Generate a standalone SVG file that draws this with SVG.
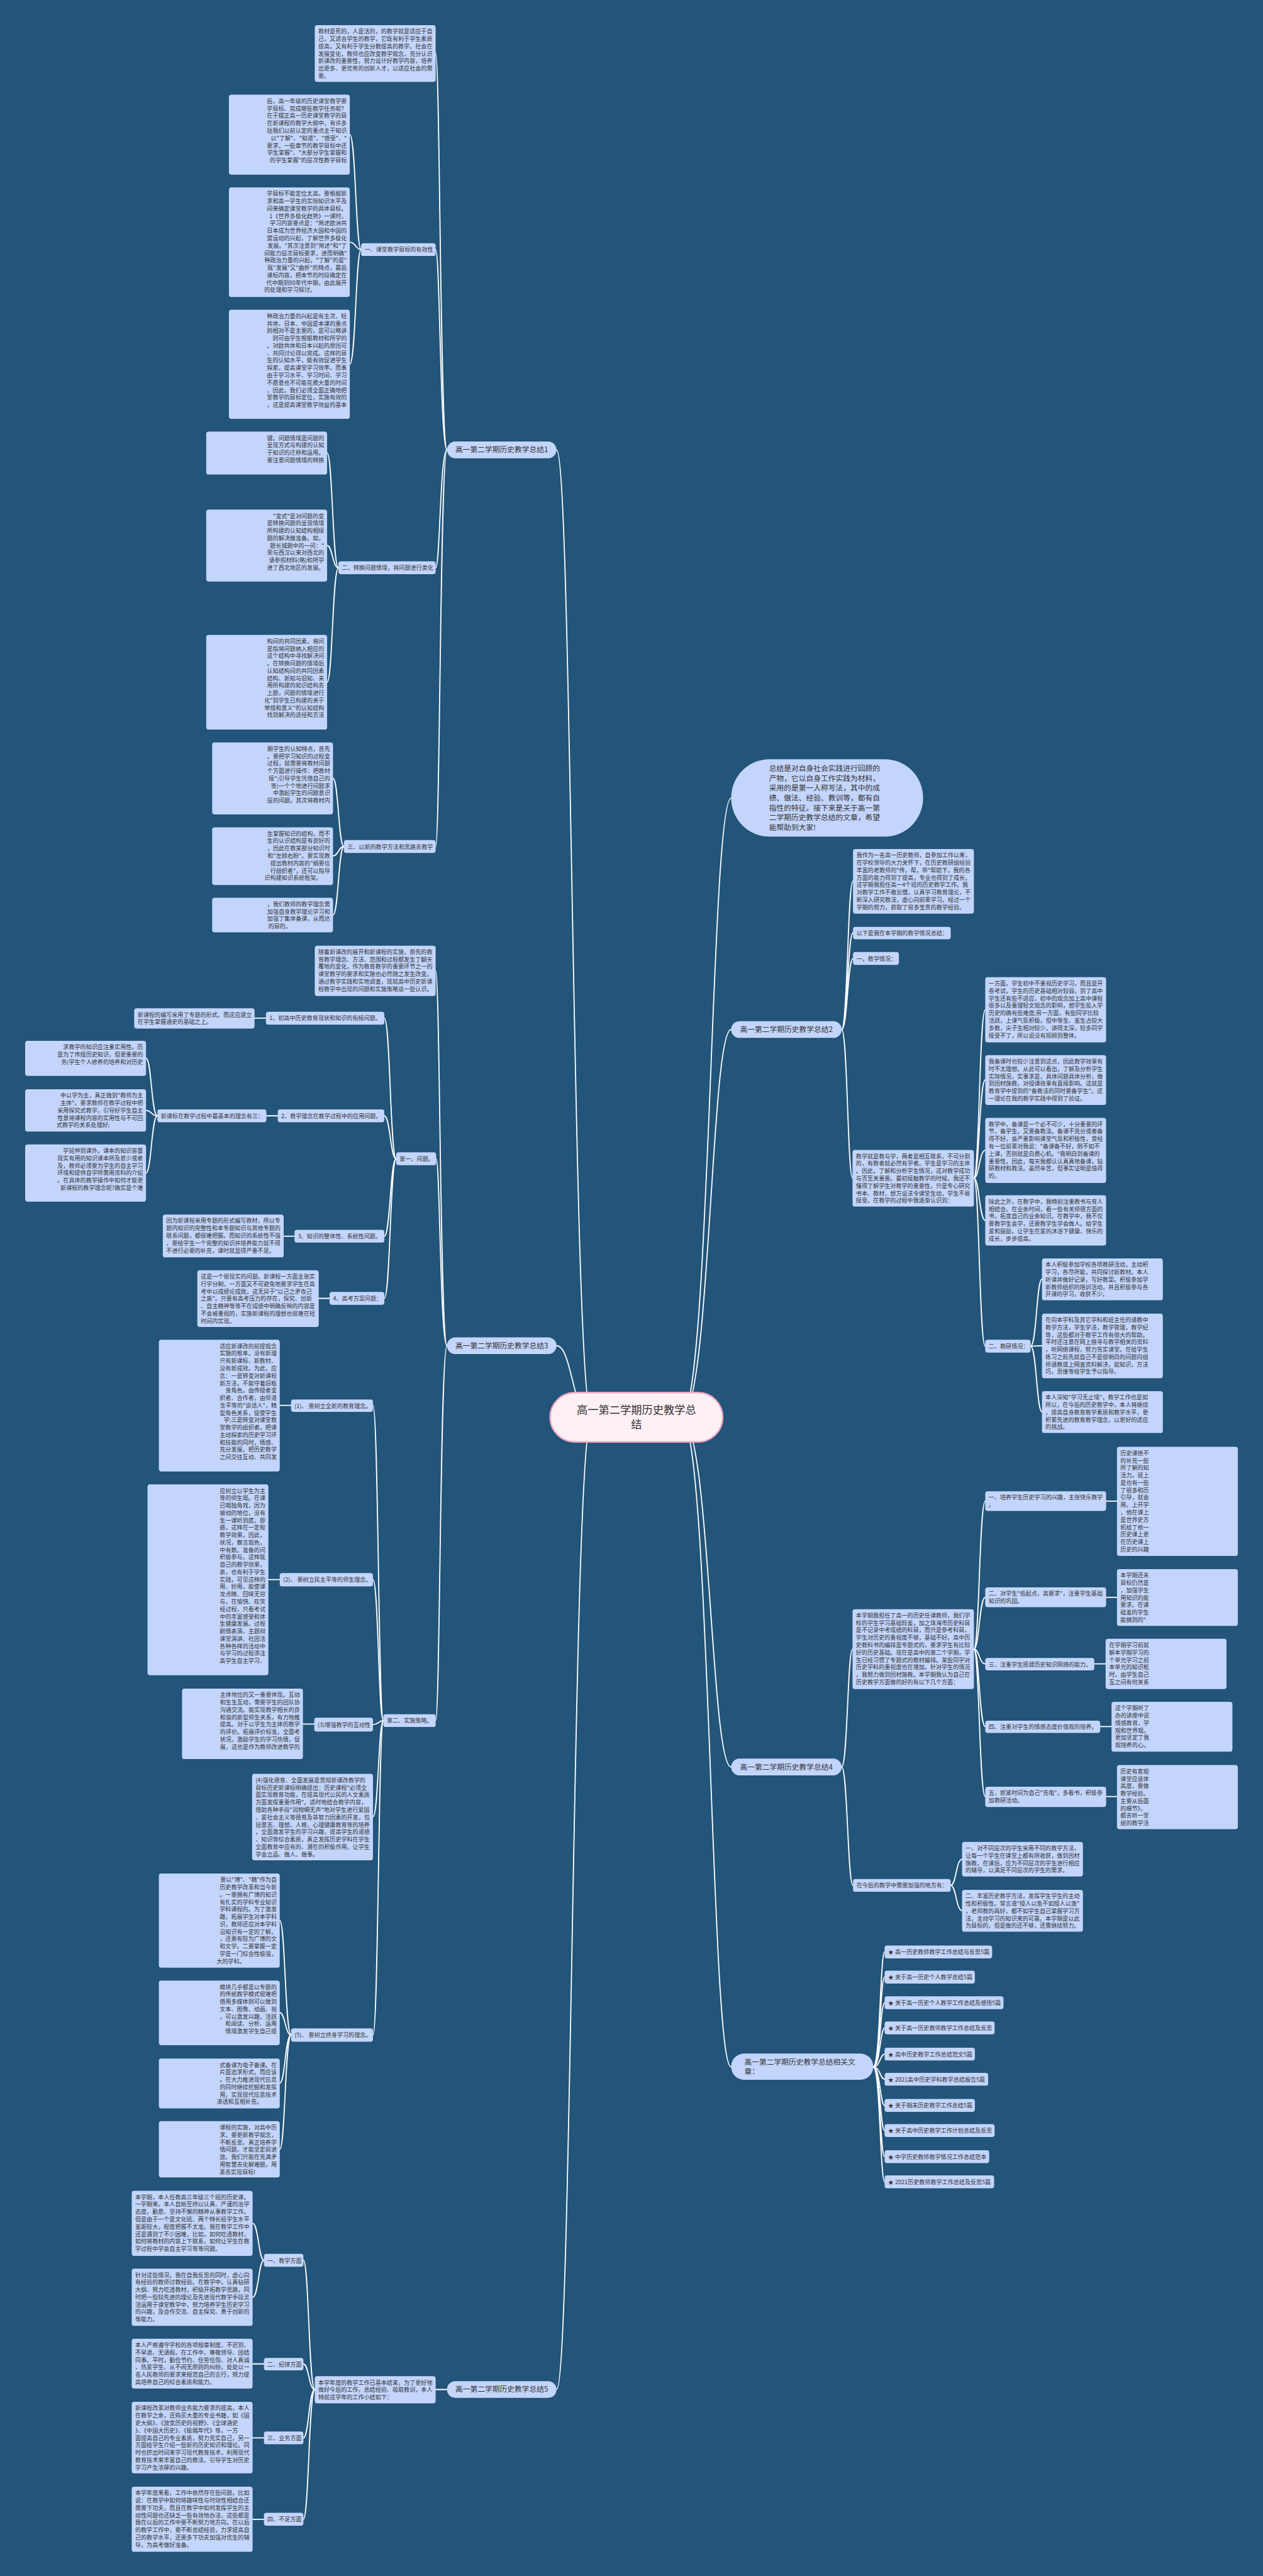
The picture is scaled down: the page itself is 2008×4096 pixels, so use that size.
<svg xmlns="http://www.w3.org/2000/svg" width="2008" height="4096" viewBox="0 0 2008 4096">
<style>
.bg{fill:#235479}
.n{fill:#c3d5fb}
.t{font-family:"Noto Sans CJK SC","Noto Sans CJK JP",sans-serif;font-size:11.6px;fill:#333}
.r{text-anchor:end}
.b{font-size:15px}
.m{text-anchor:middle}
.c{fill:none;stroke:#fff;stroke-width:2.3;stroke-linecap:round}
.ctr{fill:#fdf0f5;stroke:#f2a5c0;stroke-width:3}
</style>
<rect class="bg" x="0" y="0" width="2008" height="4096"/>
<g transform="scale(0.784375)">
<g id="connectors">
<path class="c" d="M1200 2873 C1160 2873 1160 912 1128 912"/>
<path class="c" d="M1200 2873 C1160 2873 1160 2728 1128 2728"/>
<path class="c" d="M1200 2873 C1160 2873 1160 4844 1128 4844"/>
<path class="c" d="M1380 2873 C1440 2873 1440 1618 1482 1618"/>
<path class="c" d="M1380 2873 C1440 2873 1440 2087 1482 2087"/>
<path class="c" d="M1380 2873 C1440 2873 1440 3582 1482 3582"/>
<path class="c" d="M1380 2873 C1440 2873 1440 4190 1482 4190"/>
<path class="c" d="M906 912 C892 912 892 108 883 108"/>
<path class="c" d="M906 912 C892 912 892 506 883 506"/>
<path class="c" d="M906 912 C892 912 892 1151 883 1151"/>
<path class="c" d="M906 912 C892 912 892 1716 883 1716"/>
<path class="c" d="M732 506 C721 506 721 273 709 273"/>
<path class="c" d="M732 506 C721 506 721 491 709 491"/>
<path class="c" d="M732 506 C721 506 721 738 709 738"/>
<path class="c" d="M686 1151 C674 1151 674 918 663 918"/>
<path class="c" d="M686 1151 C674 1151 674 1106 663 1106"/>
<path class="c" d="M686 1151 C674 1151 674 1383 663 1383"/>
<path class="c" d="M697 1716 C686 1716 686 1578 675 1578"/>
<path class="c" d="M697 1716 C686 1716 686 1735 675 1735"/>
<path class="c" d="M697 1716 C686 1716 686 1855 675 1855"/>
<path class="c" d="M906 2728 C892 2728 892 1968 883 1968"/>
<path class="c" d="M906 2728 C892 2728 892 2349 884 2349"/>
<path class="c" d="M906 2728 C892 2728 892 3488 883 3488"/>
<path class="c" d="M803 2349 C791 2349 791 2064 779 2064"/>
<path class="c" d="M803 2349 C791 2349 791 2262 779 2262"/>
<path class="c" d="M803 2349 C791 2349 791 2506 779 2506"/>
<path class="c" d="M803 2349 C791 2349 791 2632 779 2632"/>
<path class="c" d="M539 2064 H516"/>
<path class="c" d="M563 2262 H540"/>
<path class="c" d="M319 2262 C307 2262 307 2145 296 2145"/>
<path class="c" d="M319 2262 C307 2262 307 2251 296 2251"/>
<path class="c" d="M319 2262 C307 2262 307 2378 296 2378"/>
<path class="c" d="M597 2506 H575"/>
<path class="c" d="M668 2632 H646"/>
<path class="c" d="M777 3488 C767 3488 767 2849 756 2849"/>
<path class="c" d="M777 3488 C767 3488 767 3202 756 3202"/>
<path class="c" d="M777 3488 C767 3488 767 3496 756 3496"/>
<path class="c" d="M777 3488 C767 3488 767 3683 756 3683"/>
<path class="c" d="M777 3488 C767 3488 767 4125 756 4125"/>
<path class="c" d="M590 2849 H567"/>
<path class="c" d="M567 3202 H544"/>
<path class="c" d="M637 3495 H614"/>
<path class="c" d="M590 4125 C578 4125 578 3893 567 3893"/>
<path class="c" d="M590 4125 C578 4125 578 4080 567 4080"/>
<path class="c" d="M590 4125 C578 4125 578 4223 567 4223"/>
<path class="c" d="M590 4125 C578 4125 578 4357 567 4357"/>
<path class="c" d="M906 4844 H883"/>
<path class="c" d="M638 4844 C626 4844 626 4582 615 4582"/>
<path class="c" d="M638 4844 C626 4844 626 4792 615 4792"/>
<path class="c" d="M638 4844 C626 4844 626 4942 615 4942"/>
<path class="c" d="M638 4844 C626 4844 626 5107 615 5107"/>
<path class="c" d="M535 4582 C524 4582 524 4507 512 4507"/>
<path class="c" d="M535 4582 C524 4582 524 4657 512 4657"/>
<path class="c" d="M535 4792 H512"/>
<path class="c" d="M535 4942 H512"/>
<path class="c" d="M535 5107 H512"/>
<path class="c" d="M1706 2087 C1718 2087 1718 1786 1729 1786"/>
<path class="c" d="M1706 2087 C1718 2087 1718 1891 1729 1891"/>
<path class="c" d="M1706 2087 C1718 2087 1718 1943 1729 1943"/>
<path class="c" d="M1706 2087 C1718 2087 1718 2388 1728 2388"/>
<path class="c" d="M1974 2388 C1985 2388 1985 2047 1997 2047"/>
<path class="c" d="M1974 2388 C1985 2388 1985 2189 1997 2189"/>
<path class="c" d="M1974 2388 C1985 2388 1985 2332 1997 2332"/>
<path class="c" d="M1974 2388 C1985 2388 1985 2474 1997 2474"/>
<path class="c" d="M1974 2388 C1985 2388 1985 2729 1997 2729"/>
<path class="c" d="M2089 2729 C2101 2729 2101 2593 2112 2593"/>
<path class="c" d="M2089 2729 C2101 2729 2101 2728 2112 2728"/>
<path class="c" d="M2089 2729 C2101 2729 2101 2862 2112 2862"/>
<path class="c" d="M1706 3582 C1718 3582 1718 3343 1728 3343"/>
<path class="c" d="M1706 3582 C1718 3582 1718 3822 1729 3822"/>
<path class="c" d="M1974 3343 C1985 3343 1985 3043 1997 3043"/>
<path class="c" d="M1974 3343 C1985 3343 1985 3238 1997 3238"/>
<path class="c" d="M1974 3343 C1985 3343 1985 3373 1997 3373"/>
<path class="c" d="M1974 3343 C1985 3343 1985 3500 1997 3500"/>
<path class="c" d="M1974 3343 C1985 3343 1985 3642 1997 3642"/>
<path class="c" d="M2242 3043 H2264"/>
<path class="c" d="M2242 3238 H2264"/>
<path class="c" d="M2218 3373 H2241"/>
<path class="c" d="M2230 3500 H2253"/>
<path class="c" d="M2242 3642 H2264"/>
<path class="c" d="M1927 3822 C1938 3822 1938 3769 1950 3769"/>
<path class="c" d="M1927 3822 C1938 3822 1938 3873 1950 3873"/>
<path class="c" d="M1770 4190 C1784 4190 1784 3957 1793 3957"/>
<path class="c" d="M1770 4190 C1784 4190 1784 4008 1793 4008"/>
<path class="c" d="M1770 4190 C1784 4190 1784 4060 1793 4060"/>
<path class="c" d="M1770 4190 C1784 4190 1784 4111 1793 4111"/>
<path class="c" d="M1770 4190 C1784 4190 1784 4164 1793 4164"/>
<path class="c" d="M1770 4190 C1784 4190 1784 4215 1793 4215"/>
<path class="c" d="M1770 4190 C1784 4190 1784 4268 1793 4268"/>
<path class="c" d="M1770 4190 C1784 4190 1784 4319 1793 4319"/>
<path class="c" d="M1770 4190 C1784 4190 1784 4372 1793 4372"/>
<path class="c" d="M1770 4190 C1784 4190 1784 4423 1793 4423"/>
</g>

<g id="center"><rect class="ctr" x="1115" y="2823" width="350" height="100" rx="50"/><text class="t m" style="font-size:22px" x="1290"><tspan x="1290" y="2866">高一第二学期历史教学总</tspan><tspan x="1290" y="2895">结</tspan></text></g>

<g id="intro"><rect class="n" x="1482" y="1539" width="389" height="157" rx="78"/><text class="t b" x="1559" y="1563"><tspan x="1559" dy="0">总结是对自身社会实践进行回顾的</tspan><tspan x="1559" dy="20">产物，它以自身工作实践为材料，</tspan><tspan x="1559" dy="20">采用的是第一人称写法，其中的成</tspan><tspan x="1559" dy="20">绩、做法、经验、教训等，都有自</tspan><tspan x="1559" dy="20">指性的特征。接下来是关于高一第</tspan><tspan x="1559" dy="20">二学期历史教学总结的文章，希望</tspan><tspan x="1559" dy="20">能帮助到大家!</tspan></text></g>

<!-- Branch 1 -->
<g id="b1"><rect class="n" x="906" y="895" width="222" height="34" rx="17"/><text class="t b m" x="1017" y="917">高一第二学期历史教学总结1</text></g>
<g id="b1a"><rect class="n" x="638" y="51" width="245" height="115" rx="5"/><text class="t" x="645" y="68"><tspan x="645" dy="0">教材是死的，人是活的，的教学就是适应于自</tspan><tspan x="645" dy="15">己，又适合学生的教学，它既有利于学生素质</tspan><tspan x="645" dy="15">提高，又有利于学生分数提高的教学。社会在</tspan><tspan x="645" dy="15">发展变化，教师也应改变教学观念，充分认识</tspan><tspan x="645" dy="15">新课改的重要性，努力设计好教学内容，培养</tspan><tspan x="645" dy="15">出更多、更优秀的创新人才，以适应社会的需</tspan><tspan x="645" dy="15">要。</tspan></text></g>
<g id="b1n1"><rect class="n" x="732" y="493" width="151" height="26" rx="5"/><text class="t" x="739" y="510.5">一、课堂教学目标的有效性</text></g>
<g id="b1b"><rect class="n" x="464" y="192" width="245" height="162" rx="5"/><text class="t r" x="703" y="209"><tspan x="703" dy="0">后，高一年级的历史课堂教学要</tspan><tspan x="703" dy="15">学目标、完成哪些教学任务呢？</tspan><tspan x="703" dy="15">在于摆正高一历史课堂教学的目</tspan><tspan x="703" dy="15">在新课程的教学大纲中，有许多</tspan><tspan x="703" dy="15">括我们以前认定的重点主干知识</tspan><tspan x="703" dy="15">以"了解"、"知道"、"感受"、"</tspan><tspan x="703" dy="15">要求，一些章节的教学目标中还</tspan><tspan x="703" dy="15">学生掌握"、"大部分学生掌握和</tspan><tspan x="703" dy="15">的学生掌握"的层次性教学目标</tspan></text></g>
<g id="b1c"><rect class="n" x="464" y="380" width="245" height="222" rx="5"/><text class="t r" x="703" y="397"><tspan x="703" dy="0">学目标不能定位太高，要根据新</tspan><tspan x="703" dy="15">求和高一学生的实际知识水平及</tspan><tspan x="703" dy="15">间来确定课堂教学的具体目标。</tspan><tspan x="703" dy="15">1《世界多极化趋势》一课时，</tspan><tspan x="703" dy="15">学习内容要点是："简述欧洲共</tspan><tspan x="703" dy="15">日本成为世界经济大国和中国的</tspan><tspan x="703" dy="15">盟运动的兴起，了解世界多极化</tspan><tspan x="703" dy="15">发展。"其次注意到"简述"和"了</tspan><tspan x="703" dy="15">间能力层次目标要求，进而明确"</tspan><tspan x="703" dy="15">种政治力量的兴起，"了解"的是"</tspan><tspan x="703" dy="15">既"发展"又"曲折"的特点，最后</tspan><tspan x="703" dy="15">课标内容，把本节的时段确定在</tspan><tspan x="703" dy="15">代中期到80年代中期，由此展开</tspan><tspan x="640" dy="15">的处理和学习探讨。</tspan></text></g>
<g id="b1d"><rect class="n" x="464" y="628" width="245" height="221" rx="5"/><text class="t r" x="703" y="645"><tspan x="703" dy="0">种政治力量的兴起是有主次、轻</tspan><tspan x="703" dy="15">共体、日本、中国是本课的重点</tspan><tspan x="703" dy="15">则相对不是主要的，是可以略讲</tspan><tspan x="703" dy="15">则可由学生根据教材和所学的</tspan><tspan x="703" dy="15">。对欧共体和日本兴起的原因可</tspan><tspan x="703" dy="15">、共同讨论得以完成。这样的目</tspan><tspan x="703" dy="15">生的认知水平，能有效促进学生</tspan><tspan x="703" dy="15">探索，提高课堂学习效率。而事</tspan><tspan x="703" dy="15">由于学习水平、学习时间、学习</tspan><tspan x="703" dy="15">不愿意也不可能花费大量的时间</tspan><tspan x="703" dy="15">，因此，我们必须全面正确地把</tspan><tspan x="703" dy="15">堂教学的目标定位，实施有效的</tspan><tspan x="703" dy="15">，这是提高课堂教学效益的基本</tspan></text></g>
<g id="b1n2"><rect class="n" x="686" y="1138" width="197" height="26" rx="5"/><text class="t" x="693" y="1155.5">二、转换问题情境，将问题进行类化</text></g>
<g id="b1e"><rect class="n" x="418" y="875" width="245" height="87" rx="5"/><text class="t r" x="657" y="892"><tspan x="657" dy="0">键。问题情境是问题的</tspan><tspan x="657" dy="15">呈现方式与构建的认知</tspan><tspan x="657" dy="15">于知识的迁移和运用。</tspan><tspan x="657" dy="15">要注意问题情境的转换</tspan></text></g>
<g id="b1f"><rect class="n" x="418" y="1033" width="245" height="146" rx="5"/><text class="t r" x="657" y="1050"><tspan x="657" dy="0">"变式"是对问题的变</tspan><tspan x="657" dy="15">是转换问题的呈现情境</tspan><tspan x="657" dy="15">所构建的认知结构相接</tspan><tspan x="657" dy="15">题的解决做准备。如，</tspan><tspan x="657" dy="15">题长城题中的一问："</tspan><tspan x="657" dy="15">荣与西汉以来对西北的</tspan><tspan x="657" dy="15">请参照材料(略)和所学</tspan><tspan x="657" dy="15">进了西北地区的发展。</tspan></text></g>
<g id="b1g"><rect class="n" x="418" y="1287" width="245" height="192" rx="5"/><text class="t r" x="657" y="1304"><tspan x="657" dy="0">构间的共同因素，将问</tspan><tspan x="657" dy="15">是指将问题纳入相应的</tspan><tspan x="657" dy="15">这个结构中寻找解决问</tspan><tspan x="657" dy="15">。在转换问题的情境后</tspan><tspan x="657" dy="15">认知结构间的共同因素</tspan><tspan x="657" dy="15">结构、新知与旧知、未</tspan><tspan x="657" dy="15">用所构建的知识结构去</tspan><tspan x="657" dy="15">上题，问题的情境进行</tspan><tspan x="657" dy="15">化"到学生已构建的关于</tspan><tspan x="657" dy="15">举措和意义"的认知结构</tspan><tspan x="657" dy="15">找到解决的途径和方法</tspan></text></g>
<g id="b1n3"><rect class="n" x="697" y="1703" width="186" height="26" rx="5"/><text class="t" x="704" y="1720.5">三、以新的教学方法和思路去教学</text></g>
<g id="b1h"><rect class="n" x="430" y="1505" width="245" height="146" rx="5"/><text class="t r" x="669" y="1522"><tspan x="669" dy="0">期学生的认知特点，首先</tspan><tspan x="669" dy="15">。要把学习知识的过程变</tspan><tspan x="669" dy="15">过程，就需要将教材问题</tspan><tspan x="669" dy="15">个方面进行操作：把教材</tspan><tspan x="669" dy="15">接";引导学生凭借自己的</tspan><tspan x="669" dy="15">等)一个个地进行问题求</tspan><tspan x="669" dy="15">中激起学生的问题意识</tspan><tspan x="669" dy="15">层的问题。其次将教材内</tspan></text></g>
<g id="b1i"><rect class="n" x="430" y="1677" width="245" height="117" rx="5"/><text class="t r" x="669" y="1694"><tspan x="669" dy="0">生掌握知识的结构，而不</tspan><tspan x="669" dy="15">生的认识结构是有良好的</tspan><tspan x="669" dy="15">，因此在教某部分知识时</tspan><tspan x="669" dy="15">和"左顾右盼"。要实现教</tspan><tspan x="669" dy="15">提出教材内容的"纲要信</tspan><tspan x="669" dy="15">行组织者"，还可以指导</tspan><tspan x="652" dy="15">识构建知识系统框架。</tspan></text></g>
<g id="b1j"><rect class="n" x="430" y="1820" width="245" height="70" rx="5"/><text class="t r" x="669" y="1837"><tspan x="669" dy="0">，我们教师的教学理念需</tspan><tspan x="669" dy="15">加强自身教学理论学习和</tspan><tspan x="669" dy="15">加强了集体备课，从而达</tspan><tspan x="590" dy="15">的目的。</tspan></text></g>

<!-- Branch 3 -->
<g id="b3"><rect class="n" x="906" y="2711" width="222" height="34" rx="17"/><text class="t b m" x="1017" y="2733">高一第二学期历史教学总结3</text></g>
<g id="b3i"><rect class="n" x="638" y="1917" width="245" height="102" rx="5"/><text class="t" x="645" y="1934"><tspan x="645" dy="0">随着新课改的展开和新课程的实施，原先的教</tspan><tspan x="645" dy="15">育教学理念、方法、范围和过程都发生了翻天</tspan><tspan x="645" dy="15">覆地的变化，作为教育教学的重要环节之一的</tspan><tspan x="645" dy="15">课堂教学的要求和实施也必然随之发生改变。</tspan><tspan x="645" dy="15">通过教学实践和实地调查，现就高中历史新课</tspan><tspan x="645" dy="15">程教学中出现的问题和实施策略谈一些认识。</tspan></text></g>
<g id="b3p1"><rect class="n" x="803" y="2336" width="81" height="26" rx="5"/><text class="t" x="810" y="2353.5">第一、问题。</text></g>
<g id="b3q1"><rect class="n" x="539" y="2051" width="240" height="26" rx="5"/><text class="t" x="546" y="2068.5">1、初高中历史教育现状和知识的衔接问题。</text></g>
<g id="b3q1a"><rect class="n" x="272" y="2044" width="244" height="41" rx="5"/><text class="t" x="279" y="2061"><tspan x="279" dy="0">新课程的编写采用了专题的形式。而这应建立</tspan><tspan x="279" dy="15">在学生掌握通史的基础之上。</tspan></text></g>
<g id="b3q2"><rect class="n" x="563" y="2249" width="216" height="26" rx="5"/><text class="t" x="570" y="2266.5">2、教学理念在教学过程中的应用问题。</text></g>
<g id="b3q2a"><rect class="n" x="319" y="2249" width="221" height="26" rx="5"/><text class="t" x="326" y="2266.5">新课标在教学过程中最基本的理念有三：</text></g>
<g id="b3k"><rect class="n" x="51" y="2110" width="245" height="71" rx="5"/><text class="t r" x="290" y="2127"><tspan x="290" dy="0">求教学的知识应注重实用性。历</tspan><tspan x="290" dy="15">是为了传授历史知识，但更重要的</tspan><tspan x="290" dy="15">务(学生个人修养的培养和对历史</tspan></text></g>
<g id="b3l"><rect class="n" x="51" y="2208" width="245" height="86" rx="5"/><text class="t r" x="290" y="2225"><tspan x="290" dy="0">中以学为主，真正做到"教师为主</tspan><tspan x="290" dy="15">主体"。要求教师在教学过程中把</tspan><tspan x="290" dy="15">采用探究式教学，引导好学生自主</tspan><tspan x="290" dy="15">性意将课程内容的实用性与不可回</tspan><tspan x="222" dy="15">式教学的关系处理好;</tspan></text></g>
<g id="b3m"><rect class="n" x="51" y="2320" width="245" height="116" rx="5"/><text class="t r" x="290" y="2337"><tspan x="290" dy="0">学延伸到课外。课本的知识容量</tspan><tspan x="290" dy="15">现实有用的知识课本所及甚少或者</tspan><tspan x="290" dy="15">及，教师必须要为学生的自主学习</tspan><tspan x="290" dy="15">环境和提供自学所需用资料的介绍</tspan><tspan x="290" dy="15">。在具体的教学操作中如何才能更</tspan><tspan x="290" dy="15">新课程的教学理念呢?确实是个难</tspan></text></g>
<g id="b3q3"><rect class="n" x="597" y="2493" width="182" height="26" rx="5"/><text class="t" x="604" y="2510.5">3、知识的整体性、系统性问题。</text></g>
<g id="b3q3a"><rect class="n" x="330" y="2462" width="245" height="87" rx="5"/><text class="t" x="337" y="2479"><tspan x="337" dy="0">因为新课程采用专题的形式编写教材，所以专</tspan><tspan x="337" dy="15">题内知识的完整性和本专题知识与其他专题的</tspan><tspan x="337" dy="15">联系问题，都很难把握。而知识的系统性不强</tspan><tspan x="337" dy="15">，要给学生一个完整的知识并培养能力就不得</tspan><tspan x="337" dy="15">不进行必要的补充，课时就显得严重不足。</tspan></text></g>
<g id="b3q4"><rect class="n" x="668" y="2619" width="111" height="26" rx="5"/><text class="t" x="675" y="2636.5">4、高考方案问题：</text></g>
<g id="b3q4a"><rect class="n" x="400" y="2575" width="246" height="115" rx="5"/><text class="t" x="407" y="2592"><tspan x="407" dy="0">这是一个很现实的问题。新课程一方面主张实</tspan><tspan x="407" dy="15">行学分制，一方面又不可避免地要求学生在高</tspan><tspan x="407" dy="15">考中以成绩论成败，这无异于"以己之矛攻己</tspan><tspan x="407" dy="15">之盾"。只要有高考压力的存在，探究、创新</tspan><tspan x="407" dy="15">、自主精神等等不在成绩中明确反映的内容是</tspan><tspan x="407" dy="15">不会被重视的，实施新课程的理想也很难在短</tspan><tspan x="407" dy="15">时间内实现。</tspan></text></g>
<g id="b3p2"><rect class="n" x="777" y="3475" width="106" height="26" rx="5"/><text class="t" x="784" y="3492.5">第二、实施策略。</text></g>
<g id="b3s1"><rect class="n" x="590" y="2837" width="166" height="25" rx="5"/><text class="t" x="597" y="2854">(1)、 要树立全新的教育理念。</text></g>
<g id="b3s1a"><rect class="n" x="322" y="2716" width="245" height="267" rx="5"/><text class="t r" x="561" y="2733"><tspan x="561" dy="0">适应新课改的前提观念</tspan><tspan x="561" dy="15">实施的根本。没有新理</tspan><tspan x="561" dy="15">只有新课标、新教材、</tspan><tspan x="561" dy="15">没有新成效。为此，应</tspan><tspan x="561" dy="15">念：一是转变对新课程</tspan><tspan x="561" dy="15">新方法，不能守着旧框</tspan><tspan x="561" dy="15">身角色，由传授者变</tspan><tspan x="561" dy="15">织者、合作者，由师道</tspan><tspan x="561" dy="15">生平等的"谈话人"，精</tspan><tspan x="561" dy="15">型角色关系，促使学生</tspan><tspan x="561" dy="15">学;三是转变对课堂教</tspan><tspan x="561" dy="15">堂教学的组织者，把课</tspan><tspan x="561" dy="15">主动探索的历史学习环</tspan><tspan x="561" dy="15">和技能的同时，情感、</tspan><tspan x="561" dy="15">充分发展，把历史教学</tspan><tspan x="561" dy="15">之间交往互动、共同发</tspan></text></g>
<g id="b3s2"><rect class="n" x="567" y="3189" width="189" height="27" rx="5"/><text class="t" x="574" y="3207">(2)、 要树立民主平等的师生理念。</text></g>
<g id="b3s2a"><rect class="n" x="299" y="3009" width="245" height="387" rx="5"/><text class="t r" x="538" y="3026"><tspan x="538" dy="0">应树立以学生为主</tspan><tspan x="538" dy="15">等的师生观。在课</tspan><tspan x="538" dy="15">已唱独角戏，因为</tspan><tspan x="538" dy="15">被动的地位，没有</tspan><tspan x="538" dy="15">生一课听到底，即</tspan><tspan x="538" dy="15">惑，这样在一定程</tspan><tspan x="538" dy="15">教学效果。因此，</tspan><tspan x="538" dy="15">状况，察言观色，</tspan><tspan x="538" dy="15">中有数。准备的问</tspan><tspan x="538" dy="15">积极参与。这样既</tspan><tspan x="538" dy="15">自己的教学效果，</tspan><tspan x="538" dy="15">表，也有利于学生</tspan><tspan x="538" dy="15">实践，可见这样的</tspan><tspan x="538" dy="15">用、妙用，能使课</tspan><tspan x="538" dy="15">龙点睛、回味无穷</tspan><tspan x="538" dy="15">与，在愉快、欢笑</tspan><tspan x="538" dy="15">经过程，只看考试</tspan><tspan x="538" dy="15">中的丰富感受和体</tspan><tspan x="538" dy="15">生健康发展。过程</tspan><tspan x="538" dy="15">剧情表演、主题辩</tspan><tspan x="538" dy="15">课堂演讲、社团活</tspan><tspan x="538" dy="15">各种各样的活动中</tspan><tspan x="538" dy="15">与学习的过程添注</tspan><tspan x="538" dy="15">高学生自主学习、</tspan></text></g>
<g id="b3s3"><rect class="n" x="637" y="3482" width="119" height="28" rx="5"/><text class="t" x="644" y="3501">(3)增强教学的互动性</text></g>
<g id="b3s3a"><rect class="n" x="369" y="3423" width="245" height="143" rx="5"/><text class="t r" x="608" y="3440"><tspan x="608" dy="0">主体地位的又一重要体现。互动</tspan><tspan x="608" dy="15">和生生互动，需要学生的团队协</tspan><tspan x="608" dy="15">沟通交流。能实现教学相长的良</tspan><tspan x="608" dy="15">和谐的新型师生关系，有力地推</tspan><tspan x="608" dy="15">提高。对于以学生为主体的教学</tspan><tspan x="608" dy="15">的评价。拓展评价标准，全面考</tspan><tspan x="608" dy="15">状况，激励学生的学习热情，促</tspan><tspan x="608" dy="15">展，这也是作为教师改进教学的</tspan></text></g>
<g id="b3s4"><rect class="n" x="511" y="3596" width="245" height="175" rx="5"/><text class="t" x="518" y="3613"><tspan x="518" dy="0">(4)强化德育、全面发展是贯彻新课改教学的</tspan><tspan x="518" dy="15">目标历史新课标明确提出：历史课程"必须全</tspan><tspan x="518" dy="15">面实现教育功能，在提高现代公民的人文素质</tspan><tspan x="518" dy="15">方面发挥重要作用"。适时地结合教学内容，</tspan><tspan x="518" dy="15">借助各种手段"润物细无声"地对学生进行爱国</tspan><tspan x="518" dy="15">、爱社会主义等德育及非智力因素的开发，包</tspan><tspan x="518" dy="15">括意志、理想、人格，心理健康教育等的培养</tspan><tspan x="518" dy="15">，全面激发学生的学习兴趣，提高学生的道德</tspan><tspan x="518" dy="15">、知识等综合素质，真正发挥历史学科在学生</tspan><tspan x="518" dy="15">全面教育中应有的、潜在的积极作用，让学生</tspan><tspan x="518" dy="15">学会立品、做人、做事。</tspan></text></g>
<g id="b3s5"><rect class="n" x="590" y="4112" width="166" height="27" rx="5"/><text class="t" x="597" y="4130">(5)、 要树立终身学习的理念。</text></g>
<g id="b3s5a"><rect class="n" x="322" y="3798" width="245" height="191" rx="5"/><text class="t r" x="561" y="3815"><tspan x="561" dy="0">要以"博"、"精"作为自</tspan><tspan x="561" dy="15">历史教学改革和当今新</tspan><tspan x="561" dy="15">。一要拥有广博的知识</tspan><tspan x="561" dy="15">有扎实的学科专业知识</tspan><tspan x="561" dy="15">学科课程的。为了激发</tspan><tspan x="561" dy="15">趣，拓展学生对本学科</tspan><tspan x="561" dy="15">识，教师还应对本学科</tspan><tspan x="561" dy="15">沿知识有一定的了解。</tspan><tspan x="561" dy="15">，还要有较为广博的文</tspan><tspan x="561" dy="15">和文学。二要掌握一定</tspan><tspan x="561" dy="15">学是一门综合性极强，</tspan><tspan x="497" dy="15">大的学科。</tspan></text></g>
<g id="b3s5b"><rect class="n" x="322" y="4015" width="245" height="131" rx="5"/><text class="t r" x="561" y="4032"><tspan x="561" dy="0">模块几乎都是以专题的</tspan><tspan x="561" dy="15">的传统教学模式很难把</tspan><tspan x="561" dy="15">借用多媒体则可以做到</tspan><tspan x="561" dy="15">文本、图像、动画、视</tspan><tspan x="561" dy="15">，可以激发兴趣，活跃</tspan><tspan x="561" dy="15">和阅读、分析、运用</tspan><tspan x="561" dy="15">情境激发学生自己提</tspan></text></g>
<g id="b3s5c"><rect class="n" x="322" y="4173" width="245" height="101" rx="5"/><text class="t r" x="561" y="4190"><tspan x="561" dy="0">式备课为电子备课。在</tspan><tspan x="561" dy="15">片面追求形式，而应该</tspan><tspan x="561" dy="15">。在大力推进现代信息</tspan><tspan x="561" dy="15">的同时继续挖掘和发挥</tspan><tspan x="561" dy="15">用，实现现代信息技术</tspan><tspan x="532" dy="15">渗透和互相补充。</tspan></text></g>
<g id="b3s5d"><rect class="n" x="322" y="4300" width="245" height="114" rx="5"/><text class="t r" x="561" y="4317"><tspan x="561" dy="0">课程的实施，对高中历</tspan><tspan x="561" dy="15">求。要更新教学观念，</tspan><tspan x="561" dy="15">不断反思，真正培养学</tspan><tspan x="561" dy="15">情问题，才能坚定前进</tspan><tspan x="561" dy="15">放。我们只能在充满矛</tspan><tspan x="561" dy="15">用智慧去化解难题，用</tspan><tspan x="518" dy="15">革去实现目标!</tspan></text></g>

<!-- Branch 6 -->
<g id="b6"><rect class="n" x="906" y="4827" width="222" height="34" rx="17"/><text class="t b m" x="1017" y="4849">高一第二学期历史教学总结5</text></g>
<g id="b6a"><rect class="n" x="638" y="4817" width="245" height="55" rx="5"/><text class="t" x="645" y="4834"><tspan x="645" dy="0">本学年度的教学工作已基本结束，为了更好地</tspan><tspan x="645" dy="15">做好今后的工作，总结经验、吸取教训，本人</tspan><tspan x="645" dy="15">特就这学年的工作小结如下：</tspan></text></g>
<g id="b6n1"><rect class="n" x="535" y="4569" width="80" height="26" rx="5"/><text class="t" x="542" y="4586.5">一、教学方面</text></g>
<g id="b6n2"><rect class="n" x="535" y="4780" width="80" height="25" rx="5"/><text class="t" x="542" y="4797">二、纪律方面</text></g>
<g id="b6n3"><rect class="n" x="535" y="4929" width="80" height="26" rx="5"/><text class="t" x="542" y="4946.5">三、业务方面</text></g>
<g id="b6n4"><rect class="n" x="535" y="5094" width="80" height="26" rx="5"/><text class="t" x="542" y="5111.5">四、不足方面</text></g>
<g id="b6u1"><rect class="n" x="267" y="4441" width="245" height="132" rx="5"/><text class="t" x="274" y="4458"><tspan x="274" dy="0">本学期，本人任教高三年级三个班的历史课。</tspan><tspan x="274" dy="15">一学期来，本人自始至终以认真、严谨的治学</tspan><tspan x="274" dy="15">态度，勤恳、坚持不懈的精神从事教学工作。</tspan><tspan x="274" dy="15">但是由于一个是文化班、两个特长班学生水平</tspan><tspan x="274" dy="15">差距较大，程度把握不太准。我在教学工作中</tspan><tspan x="274" dy="15">还是遇到了不少困难，比如，如何吃透教材，</tspan><tspan x="274" dy="15">如何将教材的内容上下联系，如何让学生在教</tspan><tspan x="274" dy="15">学过程中学会自主学习等等问题。</tspan></text></g>
<g id="b6u2"><rect class="n" x="267" y="4599" width="245" height="116" rx="5"/><text class="t" x="274" y="4616"><tspan x="274" dy="0">针对这些情况，我在自我反思的同时，虚心向</tspan><tspan x="274" dy="15">有经验的教师讨教经验。在教学中，认真钻研</tspan><tspan x="274" dy="15">大纲、努力吃透教材，积极开拓教学思路，同</tspan><tspan x="274" dy="15">时把一些较先进的理论及先进现代教学手段灵</tspan><tspan x="274" dy="15">活运用于课堂教学中，努力培养学生历史学习</tspan><tspan x="274" dy="15">的兴趣，及合作交流、自主探究、勇于创新的</tspan><tspan x="274" dy="15">等能力。</tspan></text></g>
<g id="b6v"><rect class="n" x="267" y="4741" width="245" height="101" rx="5"/><text class="t" x="274" y="4758"><tspan x="274" dy="0">本人严格遵守学校的各项规章制度，不迟到、</tspan><tspan x="274" dy="15">不早退、无请假。在工作中，尊敬领导、团结</tspan><tspan x="274" dy="15">同事。平时，勤俭节约、任劳任怨、对人真诚</tspan><tspan x="274" dy="15">、热爱学生、从不闹无原则的纠纷，处处以一</tspan><tspan x="274" dy="15">名人民教师的要求来规范自己的言行，努力提</tspan><tspan x="274" dy="15">高培养自己的综合素质和能力。</tspan></text></g>
<g id="b6w"><rect class="n" x="267" y="4869" width="245" height="145" rx="5"/><text class="t" x="274" y="4886"><tspan x="274" dy="0">新课程改革对教师业务能力要求的提高，本人</tspan><tspan x="274" dy="15">在教学之余，还购买大量的专业书籍，如《国</tspan><tspan x="274" dy="15">史大纲》、《放宽历史的视野》、《全球通史</tspan><tspan x="274" dy="15">》、《中国大历史》、《极端年代》等，一方</tspan><tspan x="274" dy="15">面提高自己的专业素质，努力充实自己，另一</tspan><tspan x="274" dy="15">方面给学生介绍一些新的历史知识和理论。同</tspan><tspan x="274" dy="15">时也挤出时间来学习现代教育技术，利用现代</tspan><tspan x="274" dy="15">教育技术来丰富自己的教法，引导学生对历史</tspan><tspan x="274" dy="15">学习产生浓厚的兴趣。</tspan></text></g>
<g id="b6x"><rect class="n" x="267" y="5041" width="245" height="132" rx="5"/><text class="t" x="274" y="5058"><tspan x="274" dy="0">本学年度来看，工作中依然存在些问题，比如</tspan><tspan x="274" dy="15">说：在教学中如何将趣味性与时效性相结合还</tspan><tspan x="274" dy="15">需要下功夫，而且在教学中如何发挥学生的主</tspan><tspan x="274" dy="15">动性问题也还缺乏一些有效地办法，这些都是</tspan><tspan x="274" dy="15">我在以后的工作中要不断努力地方向。在以后</tspan><tspan x="274" dy="15">的教学工作中，要不断总结经验，力求提高自</tspan><tspan x="274" dy="15">己的教学水平，还要多下功夫加强对优生的辅</tspan><tspan x="274" dy="15">导，为高考做好准备。</tspan></text></g>

<!-- Branch 2 -->
<g id="b2"><rect class="n" x="1482" y="2070" width="224" height="34" rx="17"/><text class="t b m" x="1594" y="2092">高一第二学期历史教学总结2</text></g>
<g id="b2a"><rect class="n" x="1729" y="1721" width="245" height="131" rx="5"/><text class="t" x="1736" y="1738"><tspan x="1736" dy="0">我作为一名高一历史教师，自参加工作以来，</tspan><tspan x="1736" dy="15">在学校领导的大力关怀下，在历史教研组经验</tspan><tspan x="1736" dy="15">丰富的老教师的"传，帮，带"帮助下，我的各</tspan><tspan x="1736" dy="15">方面的能力得到了提高，专业也得到了成长。</tspan><tspan x="1736" dy="15">这学期我担任高一4个班的历史教学工作。我</tspan><tspan x="1736" dy="15">对教学工作不敢怠慢，认真学习教育理论，不</tspan><tspan x="1736" dy="15">断深入研究教法，虚心向前辈学习。经过一个</tspan><tspan x="1736" dy="15">学期的努力，获取了很多宝贵的教学经验。</tspan></text></g>
<g id="b2b"><rect class="n" x="1729" y="1879" width="198" height="25" rx="5"/><text class="t" x="1736" y="1896">以下是我在本学期的教学情况总结：</text></g>
<g id="b2c"><rect class="n" x="1729" y="1930" width="93" height="26" rx="5"/><text class="t" x="1736" y="1947.5">一，教学情况：</text></g>
<g id="b2d"><rect class="n" x="1728" y="2331" width="246" height="115" rx="5"/><text class="t" x="1735" y="2348"><tspan x="1735" dy="0">教学就是教与学，两者是相互联系，不可分割</tspan><tspan x="1735" dy="15">的，有教者就必然有学者。学生是学习的主体</tspan><tspan x="1735" dy="15">。因此，了解和分析学生情况，这对教学成功</tspan><tspan x="1735" dy="15">与否至关重要。最初接触教学的时候，我还不</tspan><tspan x="1735" dy="15">懂得了解学生对教学的重要性，只是专心研究</tspan><tspan x="1735" dy="15">书本、教材，想方设法令课堂生动，学生不易</tspan><tspan x="1735" dy="15">接受。在教学的过程中我逐渐认识到：</tspan></text></g>
<g id="b2d1"><rect class="n" x="1997" y="1981" width="245" height="132" rx="5"/><text class="t" x="2004" y="1998"><tspan x="2004" dy="0">一方面，学生初中不重视历史学习，而且是开</tspan><tspan x="2004" dy="15">卷考试，学生的历史基础相对较弱，到了高中</tspan><tspan x="2004" dy="15">学生还有些不适应，初中的观念加上高中课程</tspan><tspan x="2004" dy="15">很多以及重理轻文观念的影响，想学生投入学</tspan><tspan x="2004" dy="15">历史的确有些难度;另一方面，有些同学比较</tspan><tspan x="2004" dy="15">活跃，上课气氛积极，但中等生、差生占较大</tspan><tspan x="2004" dy="15">多数，尖子生相对较少。讲得太深，较多同学</tspan><tspan x="2004" dy="15">接受不了，所以说没有照顾到整体。</tspan></text></g>
<g id="b2d2"><rect class="n" x="1997" y="2139" width="245" height="101" rx="5"/><text class="t" x="2004" y="2156"><tspan x="2004" dy="0">我备课时也较少注意到这点，因此教学效果有</tspan><tspan x="2004" dy="15">时不太理想。从此可以看出，了解及分析学生</tspan><tspan x="2004" dy="15">实际情况，实事求是，具体问题具体分析，做</tspan><tspan x="2004" dy="15">到因材施教，对授课效果有直接影响。这就是</tspan><tspan x="2004" dy="15">教育学中提到的"备教法的同时要备学生"。这</tspan><tspan x="2004" dy="15">一理论在我的教学实践中得到了验证。</tspan></text></g>
<g id="b2d3"><rect class="n" x="1997" y="2266" width="245" height="132" rx="5"/><text class="t" x="2004" y="2283"><tspan x="2004" dy="0">教学中，备课是一个必不可少，十分重要的环</tspan><tspan x="2004" dy="15">节，备学生，又要备教法。备课不充分或者备</tspan><tspan x="2004" dy="15">得不好，会严重影响课堂气氛和积极性，曾经</tspan><tspan x="2004" dy="15">有一位前辈对我说："备课备不好，倒不如不</tspan><tspan x="2004" dy="15">上课，否则就是白费心机。"我明白到备课的</tspan><tspan x="2004" dy="15">重要性，因此，每天我都认认真真地备课，钻</tspan><tspan x="2004" dy="15">研教材和教法。虽然辛苦，但事实证明是值得</tspan><tspan x="2004" dy="15">的。</tspan></text></g>
<g id="b2d4"><rect class="n" x="1997" y="2423" width="245" height="102" rx="5"/><text class="t" x="2004" y="2440"><tspan x="2004" dy="0">除此之外，在教学中，我特别注重教书与育人</tspan><tspan x="2004" dy="15">相结合。在业余时间，看一些有关师德方面的</tspan><tspan x="2004" dy="15">书，拓宽自己的业余知识。在教学中，我不仅</tspan><tspan x="2004" dy="15">要教学生会学，还要教学生学会做人。给学生</tspan><tspan x="2004" dy="15">爱和鼓励，让学生在爱的沐浴下健康、快乐的</tspan><tspan x="2004" dy="15">成长，步步提高。</tspan></text></g>
<g id="b2e"><rect class="n" x="1997" y="2716" width="92" height="26" rx="5"/><text class="t" x="2004" y="2733.5">二、教研情况：</text></g>
<g id="b2e1"><rect class="n" x="2112" y="2551" width="245" height="85" rx="5"/><text class="t" x="2119" y="2568"><tspan x="2119" dy="0">本人积极参加学校各项教研活动，主动积</tspan><tspan x="2119" dy="15">学习，各尽所能，共同探讨新教材。本人</tspan><tspan x="2119" dy="15">听课并做好记录，写好教案。积极参加学</tspan><tspan x="2119" dy="15">新教师组织的培训活动，并且积极参与各</tspan><tspan x="2119" dy="15">开课的学习，收获不少。</tspan></text></g>
<g id="b2e2"><rect class="n" x="2112" y="2663" width="245" height="131" rx="5"/><text class="t" x="2119" y="2680"><tspan x="2119" dy="0">在向本学科及其它学科和班主任的请教中</tspan><tspan x="2119" dy="15">教学方法，学生学法，教学管理，教学纪</tspan><tspan x="2119" dy="15">等，这些都对于教学工作有很大的帮助。</tspan><tspan x="2119" dy="15">平时还注意在网上搜寻与教学相关的资料</tspan><tspan x="2119" dy="15">，听网络课程，努力充实课堂。在给学生</tspan><tspan x="2119" dy="15">练习之前先就自己不是很明白的问题向组</tspan><tspan x="2119" dy="15">师请教或上网查资料解决，就知识，方法</tspan><tspan x="2119" dy="15">巧，思维等给学生予以指导。</tspan></text></g>
<g id="b2e3"><rect class="n" x="2112" y="2820" width="245" height="85" rx="5"/><text class="t" x="2119" y="2837"><tspan x="2119" dy="0">本人深知"学习无止境"，教学工作也是如</tspan><tspan x="2119" dy="15">所以，在今后的历史教学中，本人将继续</tspan><tspan x="2119" dy="15">，提高自身教育教学素质和教学水平，更</tspan><tspan x="2119" dy="15">积累先进的教育教学理念，以更好的适应</tspan><tspan x="2119" dy="15">的挑战。</tspan></text></g>

<!-- Branch 4 -->
<g id="b4"><rect class="n" x="1482" y="3565" width="224" height="34" rx="17"/><text class="t b m" x="1594" y="3587">高一第二学期历史教学总结4</text></g>
<g id="b4a"><rect class="n" x="1728" y="3262" width="246" height="162" rx="5"/><text class="t" x="1735" y="3279"><tspan x="1735" dy="0">本学期我担任了高一的历史任课教师，我们学</tspan><tspan x="1735" dy="15">校的学生学习基础较差，加之珠海市历史科目</tspan><tspan x="1735" dy="15">是不记录中考成绩的科目，而只是参考科目，</tspan><tspan x="1735" dy="15">学生对历史的重视度不够，基础不好。高中历</tspan><tspan x="1735" dy="15">史教科书的编排是专题式的，要求学生有比较</tspan><tspan x="1735" dy="15">好的历史基础。现在是高中的第二个学期，学</tspan><tspan x="1735" dy="15">生已经习惯了专题式的教材编排。某些同学对</tspan><tspan x="1735" dy="15">历史学科的重视度也在增加。针对学生的情况</tspan><tspan x="1735" dy="15">，我努力做到因材施教。本学期我认为自己在</tspan><tspan x="1735" dy="15">历史教学方面做的好的有以下几个方面：</tspan></text></g>
<g id="b4a1"><rect class="n" x="1997" y="3023" width="245" height="40" rx="5"/><text class="t" x="2004" y="3040"><tspan x="2004" dy="0">一、培养学生历史学习的兴趣，主张快乐教学</tspan><tspan x="2004" dy="15">。</tspan></text></g>
<g id="b4a1t"><rect class="n" x="2264" y="2933" width="245" height="221" rx="5"/><text class="t" x="2271" y="2950"><tspan x="2271" dy="0">历史课绝不</tspan><tspan x="2271" dy="15">的补充一些</tspan><tspan x="2271" dy="15">所了解的知</tspan><tspan x="2271" dy="15">活力。班上</tspan><tspan x="2271" dy="15">是也有一些</tspan><tspan x="2271" dy="15">了很多和历</tspan><tspan x="2271" dy="15">引导，就会</tspan><tspan x="2271" dy="15">用。上开学</tspan><tspan x="2271" dy="15">，他在课上</tspan><tspan x="2271" dy="15">是世界史方</tspan><tspan x="2271" dy="15">机给了他一</tspan><tspan x="2271" dy="15">历史课上更</tspan><tspan x="2271" dy="15">在历史课上</tspan><tspan x="2271" dy="15">历史的兴趣</tspan></text></g>
<g id="b4a2"><rect class="n" x="1997" y="3218" width="245" height="40" rx="5"/><text class="t" x="2004" y="3235"><tspan x="2004" dy="0">二、对学生"低起点，高要求"，注重学生基础</tspan><tspan x="2004" dy="15">知识的巩固。</tspan></text></g>
<g id="b4a2t"><rect class="n" x="2264" y="3181" width="245" height="115" rx="5"/><text class="t" x="2271" y="3198"><tspan x="2271" dy="0">本学期还未</tspan><tspan x="2271" dy="15">目标仍然是</tspan><tspan x="2271" dy="15">，加强学生</tspan><tspan x="2271" dy="15">用知识的能</tspan><tspan x="2271" dy="15">要求。在课</tspan><tspan x="2271" dy="15">础差的学生</tspan><tspan x="2271" dy="15">能摘到的"</tspan></text></g>
<g id="b4a3"><rect class="n" x="1997" y="3361" width="221" height="25" rx="5"/><text class="t" x="2004" y="3378">三、注重学生搭建历史知识网络的能力。</text></g>
<g id="b4a3t"><rect class="n" x="2241" y="3322" width="245" height="102" rx="5"/><text class="t" x="2248" y="3339"><tspan x="2248" dy="0">在学期学习前就</tspan><tspan x="2248" dy="15">解本学期学习的</tspan><tspan x="2248" dy="15">个单元学习之前</tspan><tspan x="2248" dy="15">本单元的知识框</tspan><tspan x="2248" dy="15">时，由学生自己</tspan><tspan x="2248" dy="15">互之间有何关系</tspan></text></g>
<g id="b4a4"><rect class="n" x="1997" y="3488" width="233" height="25" rx="5"/><text class="t" x="2004" y="3505">四、注重对学生的情感态度价值观的培养。</text></g>
<g id="b4a4t"><rect class="n" x="2253" y="3450" width="245" height="101" rx="5"/><text class="t" x="2260" y="3467"><tspan x="2260" dy="0">这个学期听了</tspan><tspan x="2260" dy="15">办的讲座中说</tspan><tspan x="2260" dy="15">情感教育，学</tspan><tspan x="2260" dy="15">观和世界观。</tspan><tspan x="2260" dy="15">更加坚定了我</tspan><tspan x="2260" dy="15">观培养的心。</tspan></text></g>
<g id="b4a5"><rect class="n" x="1997" y="3622" width="245" height="41" rx="5"/><text class="t" x="2004" y="3639"><tspan x="2004" dy="0">五、抓紧时间为自己"充电"，多看书，积极参</tspan><tspan x="2004" dy="15">加教研活动。</tspan></text></g>
<g id="b4a5t"><rect class="n" x="2264" y="3578" width="245" height="130" rx="5"/><text class="t" x="2271" y="3595"><tspan x="2271" dy="0">历史有客观</tspan><tspan x="2271" dy="15">课堂应该体</tspan><tspan x="2271" dy="15">高度，要做</tspan><tspan x="2271" dy="15">教学经验。</tspan><tspan x="2271" dy="15">主要从后面</tspan><tspan x="2271" dy="15">的细节》，</tspan><tspan x="2271" dy="15">都去听一堂</tspan><tspan x="2271" dy="15">组的教学活</tspan></text></g>
<g id="b4b"><rect class="n" x="1729" y="3809" width="198" height="26" rx="5"/><text class="t" x="1736" y="3826.5">在今后的教学中需要加强的地方有：</text></g>
<g id="b4b1"><rect class="n" x="1950" y="3734" width="245" height="70" rx="5"/><text class="t" x="1957" y="3751"><tspan x="1957" dy="0">一、对不同层次的学生采用不同的教学方法，</tspan><tspan x="1957" dy="15">让每一个学生在课堂上都有所收获，做到因材</tspan><tspan x="1957" dy="15">施教。在课后，应为不同层次的学生进行相应</tspan><tspan x="1957" dy="15">的辅导，以满足不同层次的学生的需求。</tspan></text></g>
<g id="b4b2"><rect class="n" x="1950" y="3831" width="245" height="85" rx="5"/><text class="t" x="1957" y="3848"><tspan x="1957" dy="0">二、丰富历史教学方法，发挥学生学生的主动</tspan><tspan x="1957" dy="15">性和积极性。常言道"授人以鱼不如授人以渔"</tspan><tspan x="1957" dy="15">，老师教的再好，都不如学生自己掌握学习方</tspan><tspan x="1957" dy="15">法，主动学习的知识来的可靠。本学期是以此</tspan><tspan x="1957" dy="15">为目标的，但是做的还不够，还需继续努力。</tspan></text></g>

<!-- Branch 5 -->
<g id="b5"><rect class="n" x="1482" y="4163" width="288" height="53" rx="26"/><text class="t b" x="1509" y="4185"><tspan x="1509" dy="0">高一第二学期历史教学总结相关文</tspan><tspan x="1509" dy="20">章：</tspan></text></g>
<g id="art1"><rect class="n" x="1793" y="3944" width="218" height="26" rx="5"/><text class="t" x="1800" y="3961.5">★ 高一历史教师教学工作总结与反思5篇</text></g>
<g id="art2"><rect class="n" x="1793" y="3995" width="183" height="26" rx="5"/><text class="t" x="1800" y="4012.5">★ 关于高一历史个人教学总结5篇</text></g>
<g id="art3"><rect class="n" x="1793" y="4047" width="241" height="26" rx="5"/><text class="t" x="1800" y="4064.5">★ 关于高一历史个人教学工作总结及感悟5篇</text></g>
<g id="art4"><rect class="n" x="1793" y="4098" width="223" height="26" rx="5"/><text class="t" x="1800" y="4115.5">★ 关于高一历史教师教学工作总结及反思</text></g>
<g id="art5"><rect class="n" x="1793" y="4151" width="183" height="26" rx="5"/><text class="t" x="1800" y="4168.5">★ 高中历史教学工作总结范文5篇</text></g>
<g id="art6"><rect class="n" x="1793" y="4202" width="210" height="26" rx="5"/><text class="t" x="1800" y="4219.5">★ 2021高中历史学科教学总结报告5篇</text></g>
<g id="art7"><rect class="n" x="1793" y="4255" width="183" height="26" rx="5"/><text class="t" x="1800" y="4272.5">★ 关于期末历史教学工作总结5篇</text></g>
<g id="art8"><rect class="n" x="1793" y="4306" width="223" height="26" rx="5"/><text class="t" x="1800" y="4323.5">★ 关于高中历史教学工作计划总结及反思</text></g>
<g id="art9"><rect class="n" x="1793" y="4359" width="212" height="26" rx="5"/><text class="t" x="1800" y="4376.5">★ 中学历史教师教学情况工作总结范本</text></g>
<g id="art10"><rect class="n" x="1793" y="4410" width="222" height="26" rx="5"/><text class="t" x="1800" y="4427.5">★ 2021历史教师教学工作总结及反思5篇</text></g>
</g>
</svg>
